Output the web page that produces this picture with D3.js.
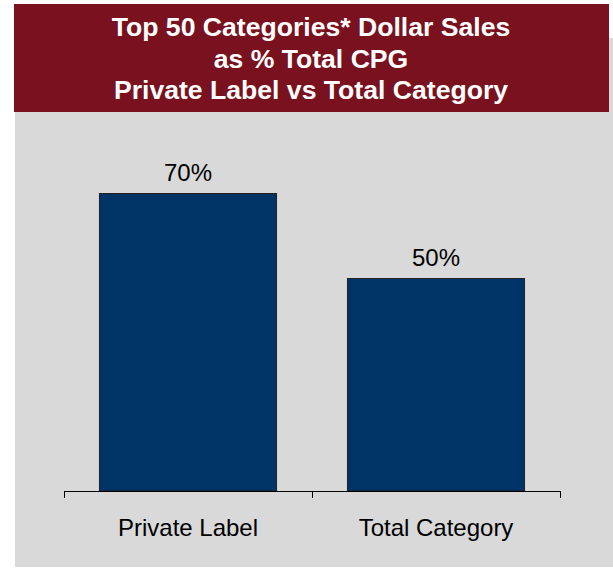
<!DOCTYPE html>
<html>
<head>
<meta charset="utf-8">
<script src="https://cdn.jsdelivr.net/npm/d3@7"></script>
<style>
  html, body { margin: 0; padding: 0; background: #ffffff; }
  svg { display: block; }
  text { font-family: "Liberation Sans", Arial, sans-serif; }
</style>
</head>
<body>
<svg id="chart" width="613" height="569"></svg>
<script>
// Share of total CPG dollar sales held by the top 50 categories
const categories = ["Private Label", "Total Category"];
const values = [0.70, 0.50];
const valueLabels = ["70%", "50%"];
const titleLines = [
  "Top 50 Categories* Dollar Sales",
  "as % Total CPG",
  "Private Label vs Total Category"
];

const svg = d3.select("#chart");

// Gray panel behind the chart
svg.append("rect")
  .attr("x", 15).attr("y", 38)
  .attr("width", 598).attr("height", 529)
  .attr("fill", "#d9d9d9");

// Title banner
svg.append("rect")
  .attr("x", 14).attr("y", 4)
  .attr("width", 595).attr("height", 108)
  .attr("fill", "#7a111e");

svg.append("g")
  .selectAll("text")
  .data(titleLines)
  .join("text")
  .attr("x", 311)
  .attr("y", (d, i) => 36 + i * 31.5)
  .attr("text-anchor", "middle")
  .attr("fill", "#ffffff")
  .attr("font-weight", "bold")
  .attr("font-size", 26.6)
  .text(d => d);

// Scales
const x = d3.scaleBand()
  .domain(categories)
  .range([64, 560])
  .padding(0);

const y = d3.scaleLinear()
  .domain([0, 0.8])
  .range([491, 151]);

const barFrac = 0.714;
const barW = x.bandwidth() * barFrac;

// Bars
svg.append("g")
  .selectAll("rect")
  .data(values)
  .join("rect")
  .attr("x", (d, i) => x(categories[i]) + (x.bandwidth() - barW) / 2)
  .attr("y", d => y(d))
  .attr("width", barW)
  .attr("height", d => y(0) - y(d))
  .attr("fill", "#003366")
  .attr("stroke", "#222222")
  .attr("stroke-width", 1);

// Value labels
svg.append("g")
  .selectAll("text")
  .data(values)
  .join("text")
  .attr("x", (d, i) => x(categories[i]) + x.bandwidth() / 2)
  .attr("y", d => y(d) - 13)
  .attr("text-anchor", "middle")
  .attr("fill", "#000000")
  .attr("font-size", 24)
  .text((d, i) => valueLabels[i]);

// Category axis: baseline with ticks between categories
const axis = svg.append("g")
  .attr("transform", `translate(0,${y(0)})`)
  .call(d3.axisBottom(x).tickSize(0).tickPadding(28));
axis.select(".domain").remove();
axis.selectAll("text")
  .attr("font-size", 24)
  .attr("fill", "#000000")
  .attr("font-family", "'Liberation Sans', Arial, sans-serif");

const edges = [x.range()[0]].concat(categories.map(c => x(c) + x.bandwidth()));
axis.append("line")
  .attr("x1", x.range()[0]).attr("x2", x.range()[1])
  .attr("y1", 0.5).attr("y2", 0.5)
  .attr("stroke", "#000000");
axis.selectAll("line.tick-mark")
  .data(edges)
  .join("line")
  .attr("class", "tick-mark")
  .attr("x1", d => Math.round(d) + 0.5).attr("x2", d => Math.round(d) + 0.5)
  .attr("y1", 0).attr("y2", 7)
  .attr("stroke", "#000000");
</script>
</body>
</html>
